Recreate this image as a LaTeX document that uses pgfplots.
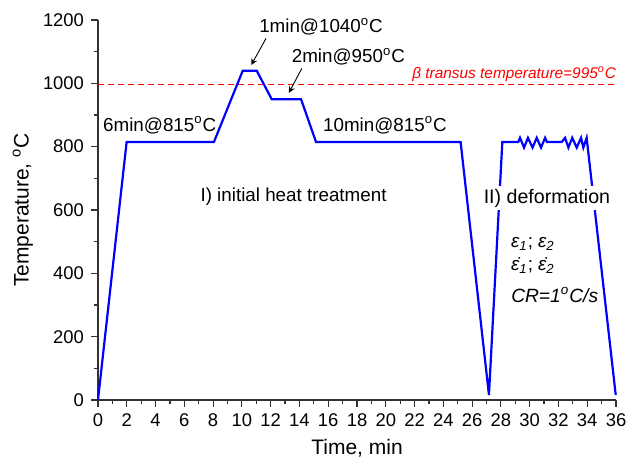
\documentclass[border=0pt]{standalone}
\usepackage{fontspec}
\setmainfont{Liberation Sans}
\usepackage{pgfplots}
\pgfplotsset{compat=1.18}
\definecolor{axgray}{RGB}{50,50,50}
\begin{document}
\begin{tikzpicture}
\path[use as bounding box] (-49pt,-30pt) rectangle (266pt,200pt);
\begin{axis}[
  scale only axis, width=259pt, height=190pt,
  xmin=0, xmax=36, ymin=0, ymax=1200,
  axis x line*=bottom, axis y line*=left,
  axis line style={axgray, line width=0.75pt, -},
  xtick={0,2,...,36}, minor xtick={1,3,...,35},
  ytick={0,200,...,1200}, minor ytick={100,300,...,1100},
  tick align=outside,
  major tick length=3.5pt, minor tick length=2.2pt,
  every tick/.style={axgray, line width=0.6pt},
  tick label style={font=\fontsize{9.2}{10}\selectfont},
  /pgf/number format/assume math mode=true,
  /pgf/number format/1000 sep={},
  xlabel={Time, min}, ylabel={Temperature, \textsuperscript{o}C},
  every axis x label/.style={at={(axis description cs:0.5,-0.126)}, anchor=center, font=\fontsize{10.5}{12}\selectfont},
  every axis y label/.style={at={(axis description cs:-0.145,0.5)}, rotate=90, anchor=center, font=\fontsize{10.5}{12}\selectfont},
  clip=false,
]
\addplot[red, dashed, line width=0.5pt, dash pattern=on 3pt off 2pt] coordinates {(0,995) (36,995)};
\addplot[blue, line width=1.1pt, line join=miter] coordinates {
 (0,0) (1.99,815) (8.06,815) (10.06,1040) (11.03,1040) (12.07,950) (14.11,950)
 (15.15,815) (25.2,815) (27.17,16) (28.1,815)
 (29.21,815) (29.33,828) (29.61,797) (29.88,828) (30.20,797) (30.49,828) (30.79,797) (31.07,828) (31.20,815)
 (32.23,815) (32.46,828) (32.69,797) (32.96,828) (33.27,797) (33.57,828) (33.73,797) (33.96,828)
 (35.98,16)
};
\node[font=\fontsize{9.4}{11}\selectfont] at (axis cs:4.29,868) {6min@815\textsuperscript{o}C};
\node[font=\fontsize{9.4}{11}\selectfont] at (axis cs:15.5,1179) {1min@1040\textsuperscript{o}C};
\node[font=\fontsize{9.4}{11}\selectfont] at (axis cs:17.4,1084) {2min@950\textsuperscript{o}C};
\node[font=\fontsize{9.4}{11}\selectfont] at (axis cs:19.94,868) {10min@815\textsuperscript{o}C};
\node[font=\fontsize{9.4}{11}\selectfont] at (axis cs:13.59,643) {I) initial heat treatment};
\node[font=\fontsize{9.8}{11}\selectfont, fill=white, inner sep=1.5pt] at (axis cs:31.2,638) {II) deformation};
\node[font=\fontsize{9.4}{11}\selectfont] at (axis cs:30.23,493) {\textit{ε\textsubscript{1}}; \textit{ε\textsubscript{2}}};
\node[font=\fontsize{9.4}{11}\selectfont] at (axis cs:30.23,424) {\textit{\.{ε}\textsubscript{1}}; \textit{\.{ε}\textsubscript{2}}};
\node[font=\fontsize{9.6}{11}\selectfont] at (axis cs:31.74,332) {\textit{CR=1\textsuperscript{o}C/s}};
\node[font=\fontsize{7.7}{9}\selectfont\itshape, red, anchor=south east, inner sep=0.5pt] at (axis cs:36.1,1002) {β transus temperature=995\textsuperscript{o}C};
\draw[-stealth, line width=0.45pt] (axis cs:11.68,1142) -- (axis cs:10.65,1058);
\draw[-stealth, line width=0.45pt] (axis cs:14.16,1047) -- (axis cs:13.27,970);
\end{axis}
\end{tikzpicture}
\end{document}
